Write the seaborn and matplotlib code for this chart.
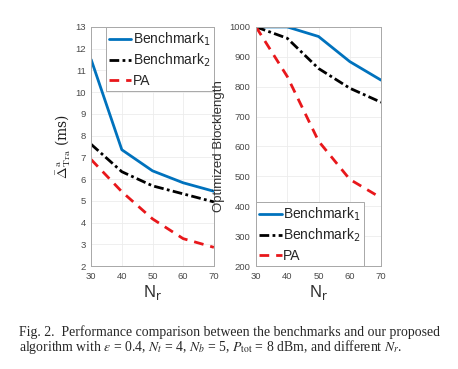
import pandas as pd
import seaborn as sns
import matplotlib.pyplot as plt

sns.set_theme(style="whitegrid")
plt.rcParams['font.family'] = ['Liberation Sans', 'DejaVu Sans']

# data
n_r = [30, 40, 50, 60, 70]
delay_b1 = [11.5, 7.35, 6.38, 5.83, 5.44]
delay_b2 = [7.6, 6.34, 5.69, 5.32, 4.95]
delay_pa = [6.9, 5.42, 4.17, 3.26, 2.86]
block_b1 = [1000, 1000, 968, 884, 822]
block_b2 = [1000, 962, 861, 795, 748]
block_pa = [1000, 834, 618, 490, 428]

labels = ['Benchmark$_1$', 'Benchmark$_2$', 'PA']
colors = {'Benchmark$_1$': '#0072BD', 'Benchmark$_2$': 'black', 'PA': '#E8171B'}
dashes = {'Benchmark$_1$': '', 'Benchmark$_2$': (3.5, 1.2, 1, 1.2), 'PA': (3.5, 2.5)}


def make_df(vals):
    rows = []
    for lab, v in zip(labels, vals):
        for x, y in zip(n_r, v):
            rows.append({'Nr': x, 'val': y, 'scheme': lab})
    return pd.DataFrame(rows)


df_delay = make_df([delay_b1, delay_b2, delay_pa])
df_block = make_df([block_b1, block_b2, block_pa])

fig = plt.figure(figsize=(4.58, 3.69), dpi=100)
ax1 = fig.add_axes([0.199, 0.279, 0.268, 0.648])
ax2 = fig.add_axes([0.559, 0.279, 0.273, 0.648])

for ax, df in [(ax1, df_delay), (ax2, df_block)]:
    sns.lineplot(data=df, x='Nr', y='val', hue='scheme', style='scheme',
                 palette=colors, dashes=dashes, linewidth=2, ax=ax)
    ax.set_xlim(30, 70)
    ax.set_xticks(n_r)
    ax.grid(True, color='#ececec', linewidth=0.6)
    ax.set_facecolor('white')
    for s in ax.spines.values():
        s.set_color('#a8a8a8')
        s.set_linewidth(0.7)
    ax.tick_params(labelsize=6.8, colors='#4a4a4a', length=2, pad=2)
    ax.set_xlabel(r'N$_{\rm r}$', fontsize=12, color='#303030', labelpad=2)

ax1.set_ylim(2, 13)
ax1.set_yticks(range(2, 14))
ax1.set_ylabel(r'$\bar{\Delta}^{\rm a}_{\rm Tra}$ (ms)', fontsize=10,
               family='DejaVu Serif', math_fontfamily='cm', color='#202020')
ax1.yaxis.set_label_coords(-0.15, 0.5)
ax2.set_ylim(200, 1000)
ax2.set_yticks(range(200, 1001, 100))
ax2.set_ylabel('Optimized Blocklength', fontsize=9.5, color='#303030')
ax2.yaxis.set_label_coords(-0.245, 0.5)

leg_kw = dict(fontsize=10, handlelength=1.6, handletextpad=0.1, borderpad=0.25,
              labelspacing=0.3, borderaxespad=0, fancybox=False, framealpha=1,
              edgecolor='#a8a8a8', title=None)
l1 = ax1.legend(loc='upper right', **leg_kw)
l2 = ax2.legend(loc='lower left', **leg_kw)
for lg in (l1, l2):
    lg.get_frame().set_linewidth(0.7)

fig.text(19 / 458, 1 - 332 / 369,
         'Fig. 2.  Performance comparison between the benchmarks and our proposed',
         family='Liberation Serif', fontsize=9.9, va='center', ha='left')
fig.text(19 / 458, 1 - 347 / 369,
         r'algorithm with $\epsilon$ = 0.4, $N_t$ = 4, $N_b$ = 5, $P_{\rm tot}$ = 8 dBm, and different $N_r$.',
         family='Liberation Serif', math_fontfamily='stix', fontsize=9.9, va='center', ha='left')

fig.savefig('out.png', dpi=100, facecolor='white')
